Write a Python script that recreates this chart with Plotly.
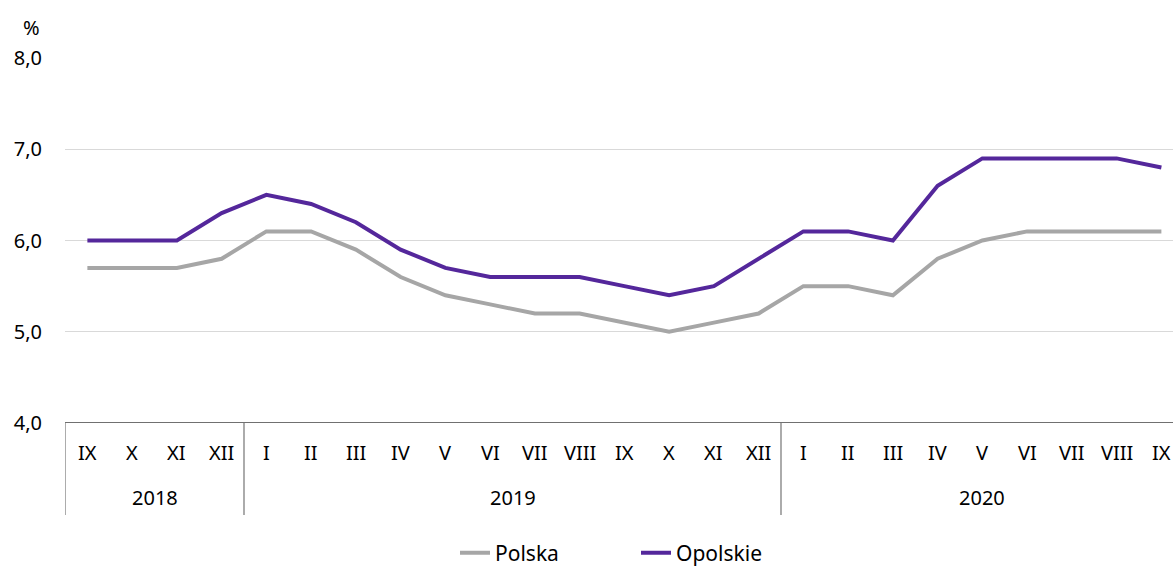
import plotly.graph_objects as go

months = ["IX", "X", "XI", "XII",
          "I", "II", "III", "IV", "V", "VI", "VII", "VIII", "IX", "X", "XI", "XII",
          "I", "II", "III", "IV", "V", "VI", "VII", "VIII", "IX"]
years = ["2018", "2019", "2020"]
year_counts = [4, 12, 9]
polska = [5.7, 5.7, 5.7, 5.8,
          6.1, 6.1, 5.9, 5.6, 5.4, 5.3, 5.2, 5.2, 5.1, 5.0, 5.1, 5.2,
          5.5, 5.5, 5.4, 5.8, 6.0, 6.1, 6.1, 6.1, 6.1]
opolskie = [6.0, 6.0, 6.0, 6.3,
            6.5, 6.4, 6.2, 5.9, 5.7, 5.6, 5.6, 5.6, 5.5, 5.4, 5.5, 5.8,
            6.1, 6.1, 6.0, 6.6, 6.9, 6.9, 6.9, 6.9, 6.8]
y_ticks = [4, 5, 6, 7, 8]
y_labels = ["4,0", "5,0", "6,0", "7,0", "8,0"]

FONT = "Noto Sans"
FS = 20
x = list(range(len(months)))

fig = go.Figure()
fig.add_trace(go.Scatter(x=x, y=polska, mode="lines", name="Polska",
                         line=dict(color="#A6A6A6", width=4)))
fig.add_trace(go.Scatter(x=x, y=opolskie, mode="lines", name="Opolskie",
                         line=dict(color="#54279B", width=4)))

annotations = []
shapes = []
for i, m in enumerate(months):
    annotations.append(dict(x=i, y=-0.082, xref="x", yref="paper", text=m,
                            showarrow=False, font=dict(family=FONT, size=FS, color="#000"),
                            yanchor="middle"))
start = 0
for yr, cnt in zip(years, year_counts):
    annotations.append(dict(x=start + (cnt - 1) / 2, y=-0.205, xref="x", yref="paper",
                            text=yr, showarrow=False,
                            font=dict(family=FONT, size=FS, color="#000"), yanchor="middle"))
    shapes.append(dict(type="line", xref="x", yref="paper", x0=start - 0.5, x1=start - 0.5,
                       y0=0, y1=-0.252, line=dict(color="#7F7F7F", width=1.3)))
    start += cnt
annotations.append(dict(x=-(65 - 31) / 1108, y=1.0 + (58 - 27) / 365, xref="paper",
                        yref="paper", text="%", showarrow=False, xanchor="center",
                        yanchor="middle", font=dict(family=FONT, size=FS, color="#000")))

fig.update_layout(
    width=1173, height=572,
    margin=dict(l=65, r=0, t=58, b=149, autoexpand=False),
    plot_bgcolor="white", paper_bgcolor="white",
    font=dict(family=FONT, size=FS, color="#000"),
    xaxis=dict(range=[-0.5, -0.5 + 1108 / 44.75], showticklabels=False, showgrid=False,
               zeroline=False, showline=False, ticks=""),
    yaxis=dict(range=[4, 8], tickvals=y_ticks, ticktext=y_labels, showgrid=True,
               gridcolor="#D9D9D9", gridwidth=1, zeroline=False, showline=False,
               ticks="", ticklabelstandoff=22,
               tickfont=dict(family=FONT, size=FS, color="#000")),
    showlegend=True,
    legend=dict(orientation="h", x=(455 - 65) / 1108, xanchor="left",
                y=-(553 - 423) / 365, yanchor="middle",
                entrywidth=136, entrywidthmode="pixels",
                font=dict(family=FONT, size=21, color="#000")),
    annotations=annotations,
    shapes=shapes + [dict(type="line", xref="paper", yref="y", x0=0, x1=1, y0=4, y1=4,
                          line=dict(color="#404040", width=1.5))],
)

fig.write_html("out.html", config={"displayModeBar": False},
               post_script="document.body.style.margin='0';document.body.style.overflow='hidden';")
